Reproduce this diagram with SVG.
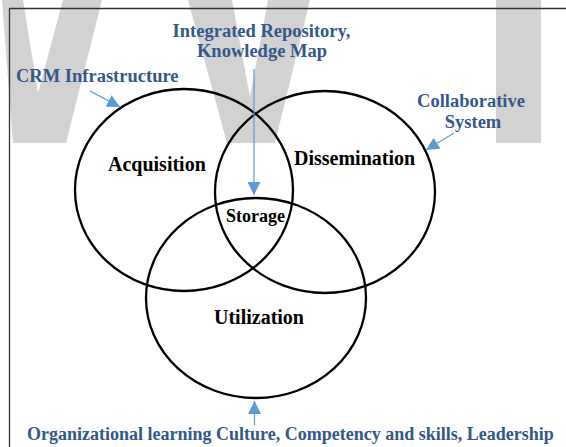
<svg xmlns="http://www.w3.org/2000/svg" width="566" height="447" viewBox="0 0 566 447">
  <defs>
    <style>
      .wm { fill: #d2d2d2; stroke: none; }
      .frame { stroke: #333333; stroke-width: 1.3; fill: none; }
      .venn { fill: none; stroke: #000000; stroke-width: 2.3; }
      .lbl { font-family: "Liberation Serif", "Times New Roman", serif; font-weight: bold; font-size: 20px; fill: #000000; }
      .note { font-family: "Liberation Serif", "Times New Roman", serif; font-weight: bold; font-size: 18.5px; fill: #34588A; }
      .conn { stroke: #5B9BD5; stroke-width: 1.2; fill: none; marker-end: url(#ah); }
    </style>
    <marker id="ah" markerUnits="userSpaceOnUse" markerWidth="13" markerHeight="13" refX="13" refY="6.5" orient="auto">
      <path d="M0,0 L13,6.5 L0,13 Z" fill="#5B9BD5"/>
    </marker>
  </defs>

  <g id="watermark">
    <polygon class="wm" points="2,0 23,0 38,93 63,0 102,0 66,143 13,143"/>
    <polygon class="wm" points="188,0 232,0 250,97 268,0 310,0 275,143 227,143"/>
    <rect class="wm" x="496" y="0" width="45" height="143"/>
  </g>

  <g id="frame">
    <line class="frame" x1="9.5" y1="8.5" x2="566" y2="8.5"/>
    <line class="frame" x1="9.5" y1="8.5" x2="9.5" y2="447"/>
  </g>

  <g id="acquisition">
    <ellipse class="venn" cx="184" cy="190" rx="109" ry="101"/>
    <text class="lbl" x="108" y="171">Acquisition</text>
  </g>
  <g id="dissemination">
    <ellipse class="venn" cx="325" cy="192" rx="110" ry="101"/>
    <text class="lbl" x="294" y="165">Dissemination</text>
  </g>
  <g id="utilization">
    <ellipse class="venn" cx="256" cy="298" rx="110" ry="100"/>
    <text class="lbl" x="214" y="324">Utilization</text>
  </g>
  <g id="storage">
    <text class="lbl" x="226" y="222" style="font-size:18px">Storage</text>
  </g>

  <g id="repository">
    <text class="note" x="261.5" y="37" text-anchor="middle">Integrated Repository,</text>
    <text class="note" x="262" y="57" text-anchor="middle">Knowledge Map</text>
  </g>
  <g id="crm">
    <text class="note" x="16" y="82">CRM Infrastructure</text>
  </g>
  <g id="collaborative">
    <text class="note" x="471" y="107" text-anchor="middle">Collaborative</text>
    <text class="note" x="473" y="128" text-anchor="middle">System</text>
  </g>
  <g id="culture">
    <text class="note" x="27" y="440" style="font-size:18px">Organizational learning Culture, Competency and skills, Leadership</text>
  </g>

  <g id="connectors">
    <line class="conn" x1="254" y1="69" x2="254" y2="195"/>
    <line class="conn" x1="90" y1="91" x2="120" y2="107"/>
    <line class="conn" x1="454" y1="133" x2="426" y2="150"/>
    <line class="conn" x1="254.5" y1="425" x2="254.5" y2="401"/>
  </g>
</svg>
